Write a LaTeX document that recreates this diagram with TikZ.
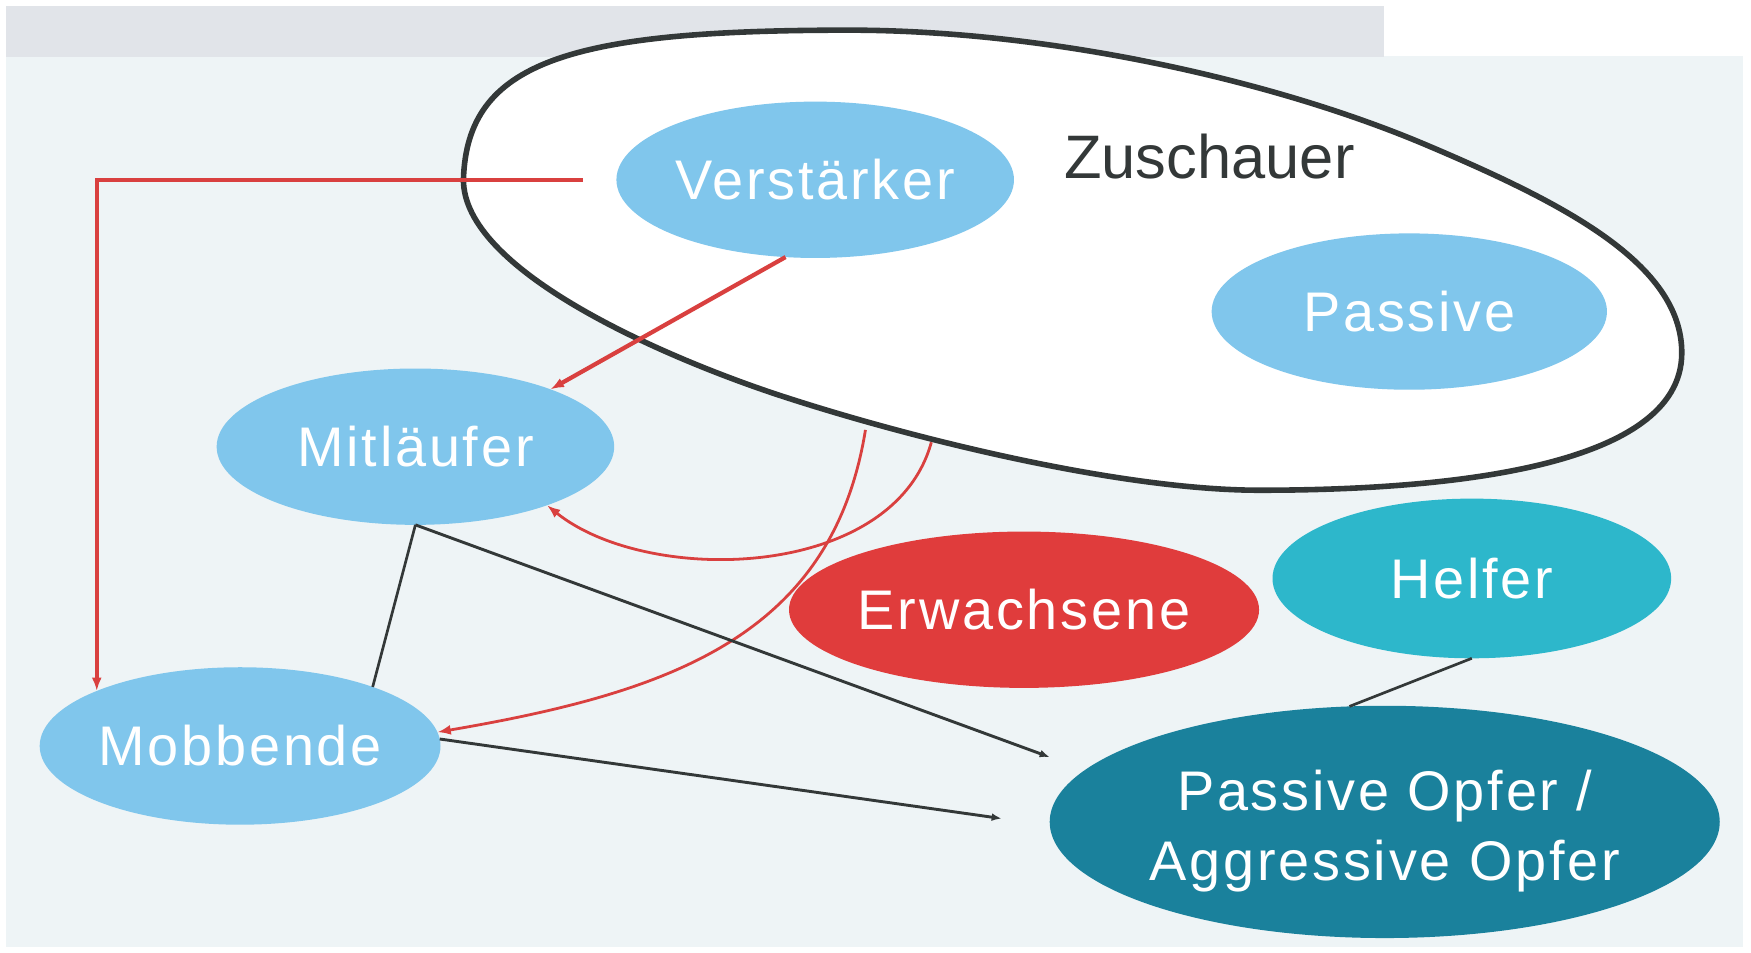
\documentclass[tikz,border=0pt]{standalone}
\usepackage{fontspec}
\setmainfont{Liberation Sans}
\newfontfamily\nodefont[LetterSpace=5]{Liberation Sans}
\usetikzlibrary{arrows.meta,calc,shapes.geometric}
\definecolor{bgpale}{HTML}{EEF4F6}
\definecolor{bandgray}{HTML}{E1E4E9}
\definecolor{lblue}{HTML}{80C6EC}
\definecolor{adultred}{HTML}{E03C3C}
\definecolor{helferteal}{HTML}{2DB7CB}
\definecolor{opferteal}{HTML}{1A819C}
\definecolor{linered}{HTML}{D9403F}
\definecolor{darkline}{HTML}{333838}
\begin{document}
\begin{tikzpicture}[x=1pt,y=-1pt,
  bubble/.style={ellipse, inner sep=0pt, outer sep=0pt, text=white,
    font=\nodefont\fontsize{50}{64}\selectfont, align=center,
    minimum width=356pt, minimum height=140pt},
  lb/.style={bubble, fill=lblue},
  redthick/.style={draw=linered, line width=3.8pt, -{Latex[length=12pt,width=9pt]}},
  redthin/.style={draw=linered, line width=2.5pt, -{Latex[length=12pt,width=9pt]}},
  blackarrow/.style={draw=darkline, line width=2.6pt, -{Latex[length=9pt,width=7pt]}},
  blackline/.style={draw=darkline, line width=2.4pt}
]
\useasboundingbox (0,0) rectangle (1568,853);
\fill[white] (0,0) rectangle (1568,853);
\fill[bgpale] (5,50) rectangle (1561,848);
\fill[bandgray] (5,5) rectangle (1239,51);

% Zuschauer outline
\draw[darkline, line width=5pt, fill=white]
  (415,161) .. controls (418,55) and (510,27) .. (760,27)
  .. controls (940,27) and (1142,72) .. (1280,131)
  .. controls (1400,182) and (1506,236) .. (1506,316)
  .. controls (1506,420) and (1290,439) .. (1128,439)
  .. controls (1000,439) and (806,390) .. (692,352)
  .. controls (588,317) and (415,241) .. (415,161) -- cycle;
\node[anchor=base, text=darkline, font=\fontsize{55}{60}\selectfont] (Z) at (1083,160) {Zuschauer};

% nodes
\node[lb] (V) at (730,161) {Verst\"arker};
\node[lb, minimum width=354pt] (P) at (1262,279) {Passive};
\node[lb] (Mi) at (372,400) {Mitl\"aufer};
\node[lb, minimum width=355pt, minimum height=141pt] (M) at (215,668) {Mobbende};
\node[bubble, fill=adultred, minimum width=385pt] (E) at (917,546) {Erwachsene};
\node[bubble, fill=helferteal, minimum width=357pt, minimum height=143pt] (H) at (1318,518) {Helfer};
\node[bubble, fill=opferteal, minimum width=600pt, minimum height=208pt] (O) at (1240,736) {\raisebox{-8.5pt}[\height][\depth]{\shortstack{Passive Opfer /\\[13pt]Aggressive Opfer}}};

% free ends
\coordinate (s1) at (522,161);
\coordinate (zA) at (775,385);
\coordinate (zB) at (834,396);
\coordinate (a6) at (940,678);
\coordinate (a7) at (897,733);

% red connectors
\draw[redthick] (s1) -- (s1 -| M.159) -- (M.159);
\draw[redthick] (V.249) -- (Mi.23);
\draw[redthin] (zB) .. controls (800,520) and (580,525) .. (Mi.-24);
\draw[redthin] (zA) .. controls (745,570) and (600,620) .. (M.4);

% black connectors
\draw[blackline] (Mi.south) -- (M.24);
\draw[blackarrow] (Mi.south) -- (a6);
\draw[blackarrow] (M.2) -- (a7);
\draw[blackline] (H.south) -- (O.107.6);
\end{tikzpicture}
\end{document}
